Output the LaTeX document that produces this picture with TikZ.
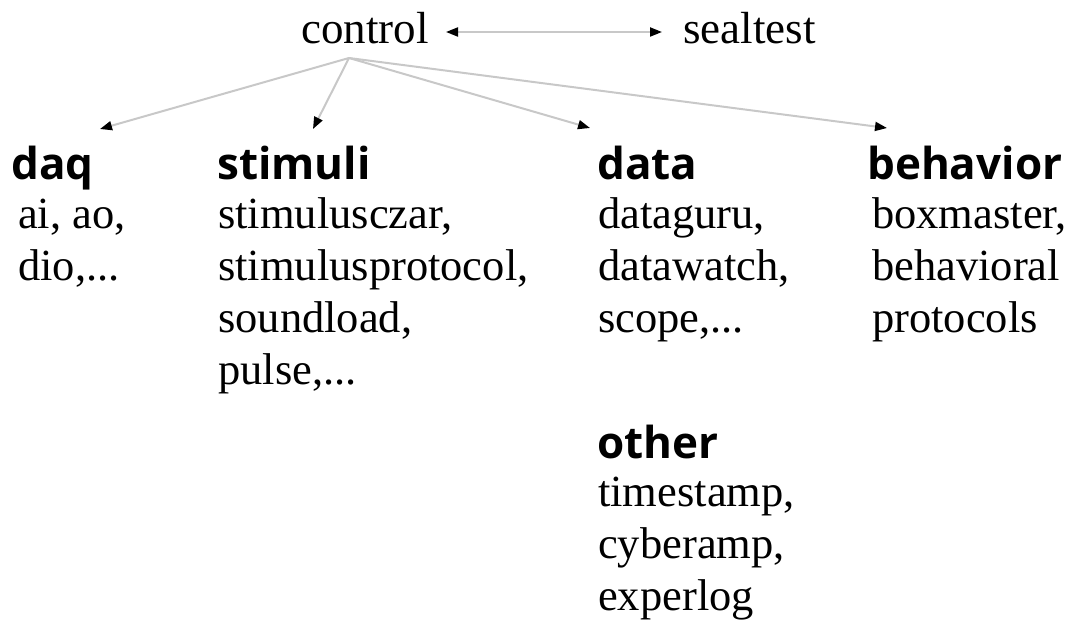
\documentclass[tikz,border=0pt]{standalone}
\usepackage{fontspec}
\setmainfont{Liberation Serif}
\newfontfamily\headfont{Open Sans}[UprightFont=* Bold]
\usetikzlibrary{arrows.meta}
\tikzset{
  body/.style={anchor=north west, inner sep=0pt, align=left, font=\fontsize{44.5bp}{52bp}\selectfont},
  head/.style={anchor=base west, inner sep=0pt, font=\headfont\fontsize{44bp}{52bp}\selectfont},
  top/.style={anchor=base west, inner sep=0pt, font=\fontsize{45bp}{52bp}\selectfont},
  link/.style={draw={rgb,255:red,200;green,200;blue,200}, line width=2bp, -{Triangle[color=black,length=12bp,width=9bp]}},
  dlink/.style={draw={rgb,255:red,200;green,200;blue,200}, line width=2bp, {Triangle[color=black,length=12bp,width=9bp]}-{Triangle[color=black,length=12bp,width=9bp]}}
}
\begin{document}
\begin{tikzpicture}[x=1bp,y=-1bp]
\useasboundingbox (0,0) rectangle (1075,630);
\node[top] (control) at (301,44) {control};
\node[top] (sealtest) at (683,44) {sealtest};
\coordinate (lp) at (446,32);
\coordinate (rp) at (662,32);
\draw[dlink] (lp) -- (rp);

\node[head] (daq) at (11,180) {daq};
\node[head] (stimuli) at (217,180) {stimuli};
\node[head] (data) at (597,180) {data};
\node[head] (behavior) at (867,180) {behavior};
\node[head] (other) at (597,458) {other};

% first baseline = y + 36.4 (strut height)
\node[body] (daqb) at (18,191.6) {\strut ai, ao,\\dio,...};
\node[body] (stimb) at (218,191.6) {\strut stimulusczar,\\stimulusprotocol,\\soundload,\\pulse,...};
\node[body] (datab) at (598,191.6) {\strut dataguru,\\datawatch,\\scope,...};
\node[body] (behb) at (872,191.6) {\strut boxmaster,\\behavioral\\protocols};
\node[body] (othb) at (598,469.6) {\strut timestamp,\\cyberamp,\\experlog};

\coordinate (src) at (349,58);
\coordinate (tdaq) at (100,129);
\coordinate (tstim) at (313,129);
\coordinate (tdata) at (590,128);
\coordinate (tbeh) at (887,128);
\draw[link] (src) -- (tdaq);
\draw[link] (src) -- (tstim);
\draw[link] (src) -- (tdata);
\draw[link] (src) -- (tbeh);
\end{tikzpicture}
\end{document}
